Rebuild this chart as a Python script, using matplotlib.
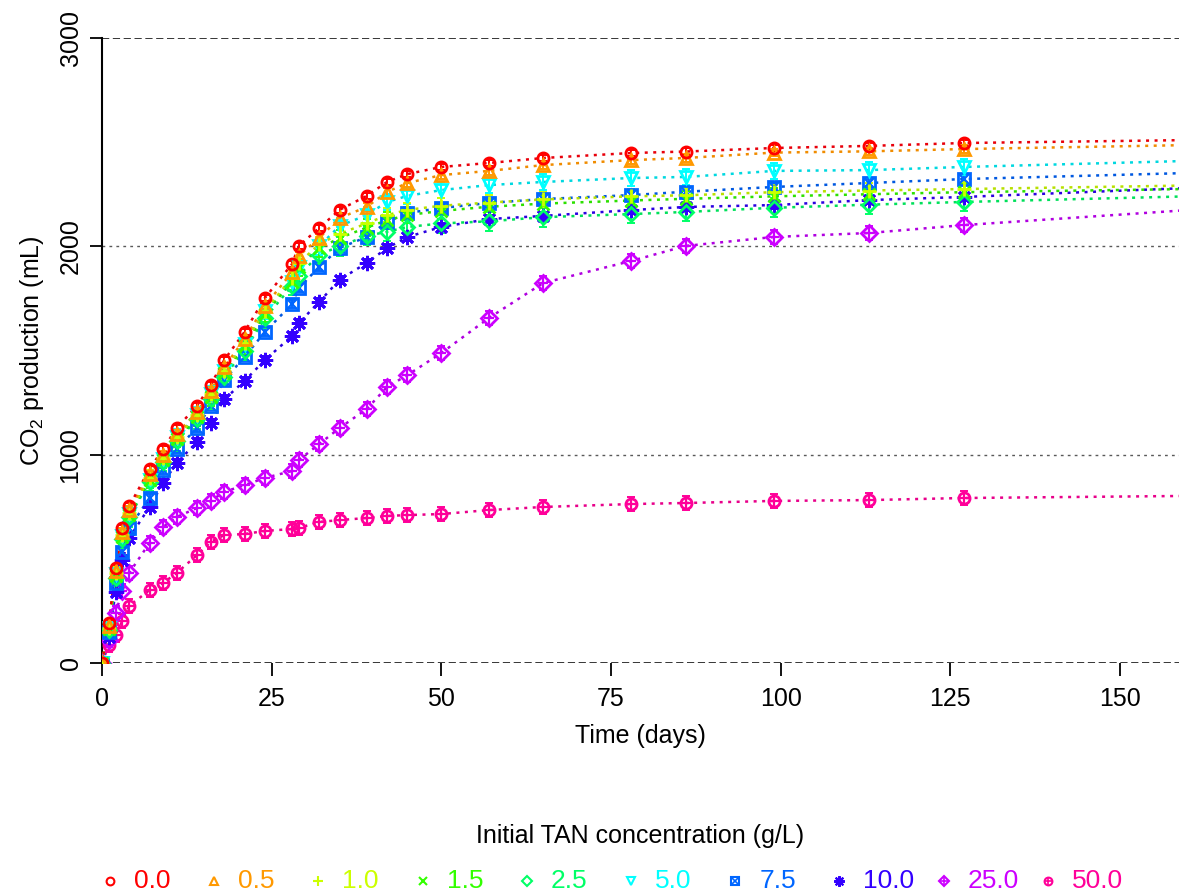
import matplotlib
matplotlib.use("Agg")
import matplotlib.pyplot as plt
from matplotlib.lines import Line2D

plt.rcParams['font.family'] = ['Liberation Sans', 'DejaVu Sans']
plt.rcParams['mathtext.fontset'] = 'custom'
plt.rcParams['mathtext.rm'] = 'Liberation Sans'
plt.rcParams['mathtext.it'] = 'Liberation Sans:italic'

# ---------------- data ----------------
days = [0, 1, 2, 3, 4, 7, 9, 11, 14, 16, 18, 21, 24, 28, 29, 32, 35, 39, 42, 45,
        50, 57, 65, 78, 86, 99, 113, 127, 160]

labels = ["0.0", "0.5", "1.0", "1.5", "2.5", "5.0", "7.5", "10.0", "25.0", "50.0"]

tan_0_0 = [0, 190, 456, 648, 752, 931, 1027, 1128, 1234, 1334, 1454, 1589, 1752, 1915, 2002,
           2088, 2175, 2242, 2309, 2347, 2381, 2400, 2424, 2448, 2455, 2472, 2482, 2496, 2510]
tan_0_5 = [0, 180, 440, 630, 735, 905, 1000, 1100, 1205, 1305, 1420, 1555, 1715, 1875, 1955,
           2040, 2136, 2189, 2261, 2304, 2342, 2362, 2390, 2414, 2424, 2450, 2456, 2467, 2486]
tan_1_0 = [0, 170, 430, 615, 720, 890, 985, 1085, 1190, 1290, 1400, 1535, 1690, 1850, 1920,
           2010, 2060, 2110, 2150, 2175, 2195, 2210, 2225, 2240, 2245, 2260, 2268, 2275, 2292]
tan_1_5 = [0, 165, 420, 605, 710, 880, 975, 1075, 1180, 1275, 1390, 1520, 1675, 1830, 1900,
           1990, 2040, 2090, 2125, 2150, 2170, 2190, 2205, 2220, 2228, 2240, 2250, 2260, 2275]
tan_2_5 = [0, 160, 410, 595, 700, 870, 965, 1065, 1170, 1265, 1375, 1500, 1655, 1810, 1860,
           1960, 2000, 2050, 2070, 2093, 2110, 2120, 2140, 2155, 2165, 2185, 2200, 2213, 2240]
tan_5_0 = [0, 170, 425, 610, 715, 880, 980, 1085, 1190, 1290, 1400, 1530, 1690, 1830, 1900,
           2000, 2098, 2150, 2213, 2242, 2270, 2294, 2309, 2328, 2333, 2362, 2366, 2381, 2410]
tan_7_5 = [0, 150, 384, 533, 648, 792, 926, 1027, 1128, 1234, 1358, 1469, 1589, 1723, 1800,
           1901, 1992, 2045, 2117, 2160, 2184, 2208, 2227, 2246, 2262, 2285, 2304, 2323, 2352]
tan_10_0 = [0, 125, 341, 494, 600, 749, 864, 960, 1061, 1152, 1265, 1354, 1454, 1570, 1632,
            1733, 1840, 1920, 1992, 2045, 2093, 2131, 2146, 2174, 2189, 2198, 2222, 2237, 2280]
tan_25_0 = [0, 110, 240, 346, 432, 576, 653, 701, 744, 778, 821, 854, 888, 922, 974,
            1051, 1128, 1219, 1325, 1382, 1488, 1656, 1824, 1930, 2002, 2045, 2064, 2102, 2174]
tan_50_0 = [0, 86, 134, 202, 274, 350, 384, 432, 518, 581, 614, 619, 634, 643, 648,
            677, 686, 696, 706, 710, 715, 734, 749, 763, 768, 778, 782, 792, 802]

series = [tan_0_0, tan_0_5, tan_1_0, tan_1_5, tan_2_5, tan_5_0, tan_7_5, tan_10_0, tan_25_0, tan_50_0]
# approximate error-bar half-widths (mL) per series
err_sd = [15, 18, 35, 40, 45, 40, 20, 20, 35, 35]

# ---------------- styles ----------------
colors = ["#FF0000", "#FF9900", "#CCFF00", "#33FF00", "#00FF66",
          "#00FFFF", "#0066FF", "#3300FF", "#CC00FF", "#FF0099"]
line_colors = ["#E8000B", "#F08C00", "#B8E000", "#2CE000", "#00E05A",
               "#00D8E0", "#0058E0", "#2A00E0", "#B000E0", "#E8008A"]
# main marker, overlay marker, size
markers = [("o", None, 8), ("^", None, 8), ("+", None, 10), ("x", None, 8), ("D", None, 7),
           ("v", None, 8), ("s", "x", 8), ((8, 2, 0), None, 11), ("D", "+", 8), ("o", "+", 8)]

fig = plt.figure(figsize=(11.79, 8.94), dpi=100)
W, H = 1179, 894
ax = fig.add_axes([102 / W, (H - 663) / H, (W - 102) / W, (663 - 38) / H])

ax.set_xlim(0, (W - 102) / 6.787)
ax.set_ylim(0, 3000)

# reference lines
for yv in (1000, 2000):
    ax.axhline(yv, color="0.35", lw=1.0, ls=(0, (2, 3)), zorder=0)
for yv in (0, 3000):
    ax.axhline(yv, color="0.15", lw=1.3, ls=(0, (4, 2)), zorder=0)

n = len(series)
for i in reversed(range(n)):
    vals = series[i]
    m, m2, ms = markers[i]
    c = colors[i]
    ax.plot(days, vals, ls=(0, (1.2, 2.2)), lw=1.8, color=line_colors[i], zorder=2 + (n - i) * 0.1)
    ax.errorbar(days[1:], vals[1:], yerr=err_sd[i], fmt="none", ecolor=c, elinewidth=1.4,
                capsize=3, capthick=1.4, zorder=3 + (n - i) * 0.1)
    ax.plot(days, vals, ls="none", marker=m, ms=ms, mfc="none", mec=c, mew=2.0,
            zorder=4 + (n - i) * 0.1)
    if m2 is not None:
        ax.plot(days, vals, ls="none", marker=m2, ms=ms * 0.9, mfc="none", mec=c, mew=1.6,
                zorder=4 + (n - i) * 0.1)

for side in ("top", "right", "bottom"):
    ax.spines[side].set_visible(False)
ax.spines["left"].set_linewidth(1.5)
ax.spines["left"].set_bounds(0, 3000)

ax.set_xticks([0, 25, 50, 75, 100, 125, 150])
ax.set_yticks([0, 1000, 2000, 3000])
ax.tick_params(axis="x", direction="out", length=9, width=1.3, labelsize=18, pad=8)
ax.tick_params(axis="y", direction="out", length=9, width=1.3, labelsize=18, pad=5)
for lab in ax.get_yticklabels():
    lab.set_rotation(90)
    lab.set_va("center")

ax.set_xlabel("Time (days)", fontsize=18, labelpad=10)
ax.set_ylabel("CO$_2$ production (mL)", fontsize=18, labelpad=9)

# legend (manual, horizontal)
fig.text(640 / W, 1 - 836 / H, "Initial TAN concentration (g/L)", ha="center", va="center",
         fontsize=18)
y_leg = 1 - 881 / H
for i in range(n):
    xm = (110 + 104.2 * i) / W
    m, m2, ms = markers[i]
    fig.add_artist(Line2D([xm], [y_leg], marker=m, ms=ms * 0.7, mfc="none", mec=colors[i],
                          mew=1.5, ls="none", transform=fig.transFigure))
    if m2 is not None:
        fig.add_artist(Line2D([xm], [y_leg], marker=m2, ms=ms * 0.65, mfc="none", mec=colors[i],
                              mew=1.2, ls="none", transform=fig.transFigure))
    fig.text(xm + 24 / W, y_leg, labels[i], color=colors[i], fontsize=19, ha="left", va="center")

fig.savefig("out.png", dpi=100)
